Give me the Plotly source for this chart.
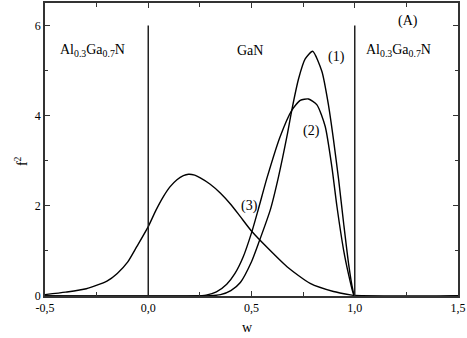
import plotly.graph_objects as go

# curve (1)
w1 = [-0.5, 0.25, 0.30, 0.35, 0.40, 0.446, 0.50, 0.534, 0.591, 0.631, 0.672, 0.695, 0.728, 0.76, 0.796,
      0.841, 0.873, 0.897, 0.922, 0.946, 0.97, 0.99, 1.0, 1.5]
f1 = [0.0, 0.0, 0.005, 0.03, 0.12, 0.30, 0.76, 1.17, 1.91, 2.65, 3.55, 4.12, 4.82, 5.26, 5.43,
      4.98, 4.23, 3.47, 2.58, 1.62, 0.72, 0.15, 0.0, 0.0]

# curve (2)
w2 = [-0.5, 0.23, 0.28, 0.33, 0.38, 0.42, 0.46, 0.50, 0.534, 0.575, 0.639, 0.695, 0.736, 0.776, 0.817,
      0.857, 0.889, 0.914, 0.946, 0.97, 0.99, 1.0, 1.5]
f2 = [0.0, 0.0, 0.02, 0.09, 0.26, 0.50, 0.87, 1.40, 1.94, 2.62, 3.54, 4.12, 4.34, 4.37, 4.24,
      3.76, 2.87, 1.98, 1.02, 0.48, 0.1, 0.0, 0.0]

# curve (3)
w3 = [-0.5, -0.4, -0.3, -0.2, -0.15, -0.1, -0.055, 0.0, 0.037, 0.074, 0.105, 0.139, 0.17, 0.195, 0.225,
      0.252, 0.30, 0.35, 0.40, 0.446, 0.502, 0.575, 0.672, 0.784, 0.897, 0.986, 1.0, 1.2, 1.5]
f3 = [0.03, 0.085, 0.16, 0.33, 0.50, 0.75, 1.10, 1.54, 1.90, 2.21, 2.42, 2.58, 2.67, 2.70, 2.68,
      2.62, 2.48, 2.28, 2.03, 1.76, 1.43, 1.08, 0.65, 0.28, 0.10, 0.02, 0.01, 0.0, 0.0]

barrier_w = [0.0, 1.0]
barrier_top = 6

xticks = [-0.5, 0.0, 0.5, 1.0, 1.5]
xticklabels = ["-0,5", "0,0", "0,5", "1,0", "1,5"]
yticks = [0, 2, 4, 6]
yticklabels = ["0", "2", "4", "6"]

FONT = "Liberation Serif, serif"

fig = go.Figure()
for w, f in [(w3, f3), (w2, f2), (w1, f1)]:
    fig.add_trace(go.Scatter(x=w, y=f, mode="lines",
                             line=dict(color="black", width=1.4, shape="spline", smoothing=0.6),
                             showlegend=False, hoverinfo="skip"))

for b in barrier_w:
    fig.add_shape(type="line", xref="x", yref="y", x0=b, x1=b, y0=0, y1=barrier_top,
                  line=dict(color="#222", width=1.5))

ann = dict(showarrow=False, font=dict(family=FONT, size=14, color="black"))
fig.add_annotation(x=-0.27, y=5.45, text="Al<sub>0.3</sub>Ga<sub>0.7</sub>N", **ann)
fig.add_annotation(x=0.495, y=5.45, text="GaN", **ann)
fig.add_annotation(x=1.21, y=5.45, text="Al<sub>0.3</sub>Ga<sub>0.7</sub>N", **ann)
fig.add_annotation(x=1.26, y=6.1, text="(A)", **ann)
fig.add_annotation(x=0.91, y=5.3, text="(1)", **ann)
fig.add_annotation(x=0.79, y=3.65, text="(2)", **ann)
fig.add_annotation(x=0.49, y=2.0, text="(3)", **ann)
fig.add_annotation(xref="paper", yref="paper", x=0.49, y=-0.109, yanchor="middle", text="w", **ann)
fig.add_annotation(xref="paper", yref="paper", x=-0.085, y=0.46, textangle=-90, text="f<sup>2</sup>", **ann)

axis_common = dict(showgrid=False, zeroline=False, showline=True, linecolor="#333", linewidth=1.5,
                   mirror="ticks", ticks="inside", ticklen=5, tickcolor="#333", tickwidth=1.3,
                   automargin=False, tickfont=dict(family=FONT, size=12, color="black"))

fig.update_xaxes(range=[-0.5, 1.5], tickmode="array", tickvals=xticks, ticktext=xticklabels,
                 minor=dict(dtick=0.25, tick0=0, ticks="inside", ticklen=4, tickcolor="#333"),
                 **axis_common)
fig.update_yaxes(range=[0, 6.5], tickmode="array", tickvals=yticks, ticktext=yticklabels,
                 minor=dict(dtick=1, tick0=0, ticks="inside", ticklen=3, tickcolor="#333"),
                 **axis_common)

fig.update_layout(width=467, height=338, margin=dict(l=45, r=9, t=3, b=42),
                  plot_bgcolor="white", paper_bgcolor="white",
                  font=dict(family=FONT, color="black"))

# browser default body margin would push the figure 8px down/right
fig.write_html("out.html", config={"displayModeBar": False},
               post_script="document.body.style.margin='0';")
